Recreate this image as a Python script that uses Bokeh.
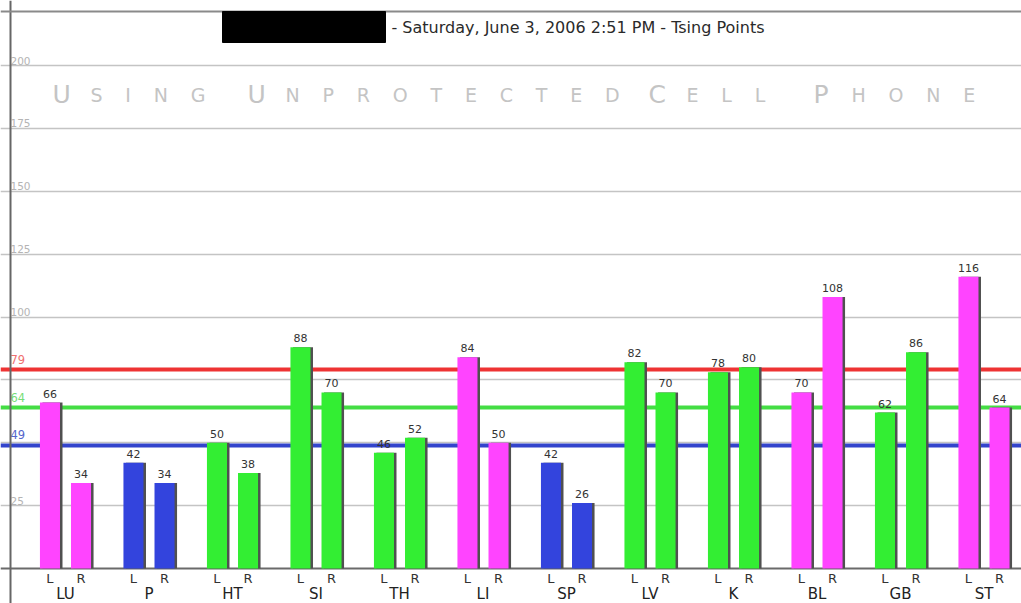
from bokeh.plotting import figure
from bokeh.models import Range1d, ColumnDataSource
from bokeh.core.properties import value
from bokeh.transform import dodge
from bokeh.embed import file_html
from bokeh.resources import INLINE

# ---------------- data ----------------
groups = ["LU", "P", "HT", "SI", "TH", "LI", "SP", "LV", "K", "BL", "GB", "ST"]
left_vals = [66, 42, 50, 88, 46, 84, 42, 82, 78, 70, 62, 116]
right_vals = [34, 34, 38, 70, 52, 50, 26, 70, 80, 108, 86, 64]
group_kind = ["m", "b", "g", "g", "g", "m", "b", "g", "g", "m", "g", "m"]

ref_levels = [79, 64, 49]
grid_ticks = [25, 50, 75, 100, 125, 150, 175, 200]
grid_labels = ["25", "", "", "100", "125", "150", "175", "200"]

title_text = "- Saturday, June 3, 2006 2:51 PM - Tsing Points"
watermark_words = ["USING", "UNPROTECTED", "CELL", "PHONE"]

# ---------------- styles ----------------
kind_color = {"m": "#ff44ff", "b": "#3344dd", "g": "#33ee33"}
ref_line_colors = ["#ee3333", "#44dd44", "#3344cc"]
ref_text_colors = ["#f07070", "#77dd77", "#5566cc"]
FONT = value("DejaVu Sans")

W, H = 1021, 603
GX0, GSTEP = 65.0, 83.5
BASE_PY, PPU = 568.0, 2.515


def px2x(px):
    return (px - GX0) / GSTEP


def py2y(py):
    return (BASE_PY - py) / PPU


X0, X1 = px2x(0), px2x(W)
Y0, Y1 = py2y(H), py2y(0)

p = figure(width=W, height=H, output_backend="svg", toolbar_location=None,
           x_range=Range1d(X0, X1), y_range=Range1d(Y0, Y1),
           x_axis_location=None, y_axis_location=None, min_border=0,
           outline_line_color=None, background_fill_color="white",
           border_fill_color="white")
p.grid.visible = False

# grid lines and their labels
p.hspan(y=grid_ticks, line_color="#c4c4c4", line_width=1.5)
p.text(x=[px2x(10)] * len(grid_ticks), y=grid_ticks, text=grid_labels, y_offset=-1,
       text_baseline="bottom", text_align="left", text_font=FONT,
       text_font_size="10.5px", text_color="#b4b4b4")

# reference lines
p.hspan(y=ref_levels, line_color=ref_line_colors, line_width=4)
p.text(x=[px2x(10)] * len(ref_levels), y=ref_levels, text=[str(v) for v in ref_levels],
       y_offset=-6, text_baseline="bottom", text_align="left",
       text_font=FONT, text_font_size="11.5px", text_color=ref_text_colors)

# borders
p.hspan(y=[0], line_color="#6a6a6a", line_width=2)
p.vspan(x=[px2x(9.5)], line_color="#666666", line_width=2)
p.hspan(y=[py2y(10.5)], line_color="#8a8a8a", line_width=2)

# watermark title
wm_left = [52, 247, 648, 813]
for word, lx in zip(watermark_words, wm_left):
    p.text(x=[px2x(lx)], y=[py2y(94)], text=[word[0]], text_baseline="alphabetic",
           text_align="left", text_font=FONT, text_font_size="25px",
           text_color="#c4c4c4")
    p.text(x=[px2x(lx)], y=[py2y(94)], text=["\u2003\u2009".join(word[1:])],
           x_offset=38, text_baseline="alphabetic", text_align="left",
           text_font=FONT, text_font_size="19px", text_color="#c4c4c4")

# header
p.quad(left=[px2x(222)], right=[px2x(385)], top=[py2y(11)], bottom=[py2y(42)],
       fill_color="black", line_color="black")
p.text(x=[px2x(391)], y=[py2y(27)], text=[title_text], text_baseline="middle",
       text_align="left", text_font=FONT, text_font_size="16px",
       text_color="#2a2a2a")

# bars
src = ColumnDataSource(dict(
    idx=list(range(len(groups))),
    group=groups,
    L=left_vals,
    R=right_vals,
    Ltxt=[str(v) for v in left_vals],
    Rtxt=[str(v) for v in right_vals],
    color=[kind_color[k] for k in group_kind],
))
OFF = 0.186
BW = 0.24
SH = 0.03
for col, off in (("L", -OFF), ("R", OFF)):
    p.vbar(x=dodge("idx", off + SH, range=p.x_range), top=col, bottom=0, width=BW,
           source=src, fill_color="#505050", line_color=None)
    p.vbar(x=dodge("idx", off, range=p.x_range), top=col, bottom=0, width=BW,
           source=src, fill_color="color", line_color=None)
    p.text(x=dodge("idx", off, range=p.x_range), y=col, text=col + "txt", source=src,
           y_offset=-5, text_baseline="bottom", text_align="center",
           text_font=FONT, text_font_size="11px", text_color="#333333")
    p.text(x=dodge("idx", off, range=p.x_range), y=0, text=value(col), source=src,
           y_offset=10, text_baseline="alphabetic", text_align="center",
           text_font=FONT, text_font_size="13px", text_color="#333333")

p.text(x="idx", y=0, text="group", source=src, y_offset=25, text_baseline="alphabetic",
       text_align="center", text_font=FONT, text_font_size="15px",
       text_color="#222222")

open("out.html", "w").write(file_html(p, INLINE))
